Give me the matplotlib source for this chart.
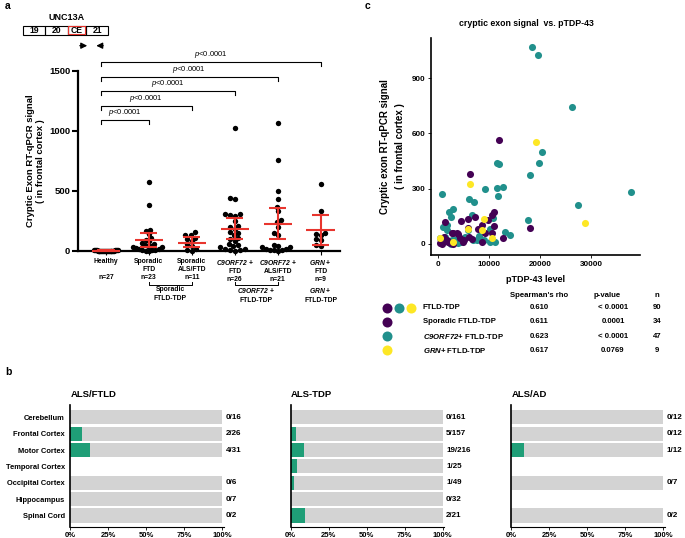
import numpy as np
import matplotlib
matplotlib.use('Agg')
import matplotlib.pyplot as plt
from matplotlib.patches import Rectangle

plt.rcParams['font.family'] = ['Liberation Sans', 'DejaVu Sans']
plt.rcParams['mathtext.fontset'] = 'custom'
plt.rcParams['mathtext.rm'] = 'Liberation Sans'
plt.rcParams['mathtext.it'] = 'Liberation Sans:italic'
plt.rcParams['mathtext.bf'] = 'Liberation Sans:bold'
plt.rcParams['mathtext.bfit'] = 'Liberation Sans:italic:bold'

# ---------------- panel a data (cryptic exon signal per group)
healthy = [2, 3, 1, 5, 0, 4, 6, 2, 8, 3, 1, 0, 2, 5, 7, 3, 4, 1, 2, 6, 0, 3, 9, 2, 1, 4, 5]
spor_ftd = [576, 387, 178, 165, 140, 110, 95, 80, 70, 60, 52, 45, 40, 35, 30, 25, 20, 15, 12, 10, 6, 4, 2]
spor_alsftd = [155, 135, 130, 110, 100, 80, 60, 40, 20, 5, 0]
c9_ftd = [1025, 445, 435, 310, 305, 300, 295, 250, 210, 200, 180, 160, 150, 130, 110, 100,
          80, 60, 50, 40, 30, 20, 15, 10, 5, 2]
c9_alsftd = [1065, 755, 500, 430, 370, 330, 260, 240, 200, 150, 130, 50, 40, 30, 30, 20, 20,
             10, 10, 5, 0]
grn_ftd = [560, 330, 150, 140, 130, 100, 90, 50, 40]
groups_a = [healthy, spor_ftd, spor_alsftd, c9_ftd, c9_alsftd, grn_ftd]
means_a = [3, 91, 70, 184, 226, 175]
ci_lo_a = [0, 34, 34, 102, 99, 48]
ci_hi_a = [8, 147, 113, 271, 356, 302]
labels_a = ['Healthy\n\nn=27', 'Sporadic\nFTD\nn=23', 'Sporadic\nALS/FTD\nn=11',
            '$\\mathbfit{C9ORF72}$ +\nFTD\nn=26', '$\\mathbfit{C9ORF72}$ +\nALS/FTD\nn=21',
            '$\\mathbfit{GRN}$ +\nFTD\nn=9']
brackets_to = [5, 4, 3, 2, 1]
brackets_y = [1575, 1450, 1333, 1208, 1092]

# ---------------- panel b data
tissues = ['Cerebellum', 'Frontal Cortex', 'Motor Cortex', 'Temporal Cortex',
           'Occipital Cortex', 'Hippocampus', 'Spinal Cord']
b_titles = ['ALS/FTLD', 'ALS-TDP', 'ALS/AD']
als_ftld_pos = [0, 2, 4, None, 0, 0, 0]
als_ftld_tot = [16, 26, 31, None, 6, 7, 2]
als_tdp_pos = [0, 5, 19, 1, 1, 0, 2]
als_tdp_tot = [161, 157, 216, 25, 49, 32, 21]
als_ad_pos = [0, 0, 1, None, 0, None, 0]
als_ad_tot = [12, 12, 12, None, 7, None, 2]

# ---------------- panel c data (pTDP-43, cryptic exon)
spor_x = [11900, 6250, 18000, 10940, 10550, 10550, 12640, 8530, 7230, 5920, 4490, 5920, 7870,
          9180, 6580, 5080, 2990, 3770, 2670, 1370, 390, 720, 2340, 2010, 4940, 3960, 9800,
          1200, 8500, 6000, 4200, 1700, 3000, 11000]
spor_y = [566, 380, 88, 172, 157, 61, 33, 105, 148, 134, 125, 85, 80, 58, 25, 22, 61, 61, 61,
          121, 7, 0, 7, 12, 12, 54, 130, 40, 10, 40, 30, 20, 0, 100]
c9_x = [18400, 19470, 26100, 20400, 19800, 17970, 37750, 27300, 17600, 720, 9240, 11580,
        12750, 11720, 11580, 11900, 6120, 7090, 13090, 14060, 10800, 10160, 10160, 6580, 8200,
        6900, 5270, 2990, 2210, 2480, 1700, 1040, 1370, 1700, 390, 2670, 3320, 3960, 3960,
        7550, 5800, 8000, 1000, 2500, 4500, 9000, 11200]
c9_y = [1067, 1024, 743, 499, 440, 373, 284, 209, 129, 273, 298, 302, 308, 260, 441, 432,
        244, 226, 67, 50, 139, 9, 80, 157, 25, 22, 36, 188, 175, 148, 103, 94, 40, 76, 33,
        22, 22, 29, 4, 22, 76, 45, 10, 0, 10, 20, 10]
grn_x = [6250, 19080, 28800, 9040, 5920, 8530, 390, 10500, 3000]
grn_y = [325, 552, 115, 134, 81, 76, 34, 35, 10]

stat_rows = ['FTLD-TDP', 'Sporadic FTLD-TDP', '$\\mathbfit{C9ORF72}$+ FTLD-TDP',
             '$\\mathbfit{GRN}$+ FTLD-TDP']
stat_rho = ['0.610', '0.611', '0.623', '0.617']
stat_p = ['< 0.0001', '0.0001', '< 0.0001', '0.0769']
stat_n = ['90', '34', '47', '9']

PURPLE, TEAL, YELLOW = '#440154', '#21908C', '#FDE725'
RED = '#E8352E'
GREEN = '#1F9E77'
GREY = '#D3D3D3'

W, H = 685, 538
fig = plt.figure(figsize=(W / 100, H / 100), dpi=100)


def fx(px):
    return px / W


def fy(py):
    return 1 - py / H


def swarm(vals, pxu, d, maxw):
    # simple beeswarm: x offsets in pixels
    offs = np.zeros(len(vals))
    placed = []
    cands = np.arange(-200, 200.1, 0.5)
    cands = cands[np.argsort(np.abs(cands), kind='stable')]
    for i in np.argsort(vals):
        y = vals[i] * pxu
        for c in cands:
            if all((c - a) ** 2 + (y - b) ** 2 >= d ** 2 for a, b in placed):
                break
        placed.append((c, y))
        offs[i] = c
    m = np.abs(offs).max()
    if m > maxw:
        offs = offs * maxw / m
    return offs


# ================= panel a
ax = fig.add_axes([fx(78), fy(251), fx(340) - fx(78), fy(71) - fy(251)])
ax.set_xlim(-0.65, 5.45)
ax.set_ylim(0, 1500)
step = 42.8
for i, vals in enumerate(groups_a):
    vals = np.array(vals, dtype=float)
    offs = swarm(vals, 0.12, 4.8, 12 if i == 0 else 16)
    ax.scatter(i + offs / step, vals, s=15, color='black', zorder=3, clip_on=False, lw=0)
    ax.hlines(means_a[i], i - 0.33, i + 0.33, color=RED, lw=1.5, zorder=4, clip_on=False)
    ax.hlines([ci_lo_a[i], ci_hi_a[i]], i - 0.2, i + 0.2, color=RED, lw=1.5, zorder=4,
              clip_on=False)
    ax.vlines(i, ci_lo_a[i], ci_hi_a[i], color=RED, lw=1.5, zorder=4, clip_on=False)
for tgt, yb in zip(brackets_to, brackets_y):
    ax.plot([-0.12, -0.12, tgt, tgt], [yb - 32, yb, yb, yb - 32], color='black', lw=0.8,
            clip_on=False)
    ax.text((tgt - 0.12) / 2, yb + 20, '$\\mathit{p}$<0.0001', ha='center', va='bottom',
            fontsize=5.5)
for s in ['top', 'right']:
    ax.spines[s].set_visible(False)
for s in ['left', 'bottom']:
    ax.spines[s].set_linewidth(1.6)
ax.set_yticks([0, 500, 1000, 1500])
ax.tick_params(axis='y', length=4, width=1.5, labelsize=6.8, pad=1.5)
for lab in ax.get_yticklabels():
    lab.set_fontweight('bold')
ax.set_xticks(range(6))
ax.set_xticklabels([])
ax.tick_params(axis='x', length=3, width=0.8)
ax.set_ylabel('Cryptic Exon RT-qPCR signal\n( in frontal cortex )', fontsize=6.8,
              fontweight='bold', linespacing=1.15, labelpad=3)
tr = ax.get_xaxis_transform()
for i, lab in enumerate(labels_a):
    ax.text(i, -0.04, lab, transform=tr, ha='center', va='top', fontsize=4.9,
            fontweight='bold', linespacing=1.2)
# group brackets
for a0, a1, lab in [(1, 2, 'Sporadic\nFTLD-TDP'), (3, 4, '$\\mathbfit{C9ORF72}$ +\nFTLD-TDP'),
                    (5, 5, '$\\mathbfit{GRN}$ +\nFTLD-TDP')]:
    if a1 > a0:
        ax.plot([a0, a0, a1, a1], [-0.17, -0.187, -0.187, -0.17], transform=tr,
                color='black', lw=0.7, clip_on=False)
    ax.text((a0 + a1) / 2, -0.197, lab, transform=tr, ha='center', va='top', fontsize=4.9,
            fontweight='bold', linespacing=1.25)

# ================= panel c
axc = fig.add_axes([fx(431), fy(255), fx(640) - fx(431), fy(38) - fy(255)])
axc.set_xlim(-1400, 39500)
axc.set_ylim(-60, 1118)
axc.scatter(c9_x, c9_y, s=26, color=TEAL, lw=0, zorder=2)
axc.scatter(spor_x, spor_y, s=26, color=PURPLE, lw=0, zorder=3)
axc.scatter(grn_x, grn_y, s=26, color=YELLOW, lw=0, zorder=4)
for s in ['top', 'right']:
    axc.spines[s].set_visible(False)
for s in ['left', 'bottom']:
    axc.spines[s].set_linewidth(1.2)
axc.set_xticks([0, 10000, 20000, 30000])
axc.set_yticks([0, 300, 600, 900])
axc.tick_params(length=2, width=0.6, labelsize=5.8, pad=2)
for lab in axc.get_xticklabels() + axc.get_yticklabels():
    lab.set_fontweight('bold')
axc.set_ylabel('Cryptic exon RT-qPCR signal\n( in frontal cortex )', fontsize=7,
               fontweight='bold', linespacing=1.6, labelpad=5)
axc.set_xlabel('pTDP-43 level', fontsize=6.5, fontweight='bold', labelpad=5)

# ================= panel b
b_pos = [als_ftld_pos, als_tdp_pos, als_ad_pos]
b_tot = [als_ftld_tot, als_tdp_tot, als_ad_tot]
for k, left in enumerate([70.3, 290.7, 511.3]):
    axb = fig.add_axes([fx(left), fy(527), 153.5 / W, fy(405) - fy(527)])
    axb.set_xlim(0, 101)
    axb.set_ylim(6.7, -0.75)
    for r in range(len(tissues)):
        pos, tot = b_pos[k][r], b_tot[k][r]
        if tot is None:
            continue
        axb.barh(r, 100, height=0.86, color=GREY, lw=0)
        axb.barh(r, 100 * pos / tot, height=0.86, color=GREEN, lw=0)
        axb.text(1.012, r, f'{pos}/{tot}', transform=axb.get_yaxis_transform(),
                 ha='left', va='center', fontsize=5.8, fontweight='bold')
    for s in ['top', 'right']:
        axb.spines[s].set_visible(False)
    axb.spines['left'].set_linewidth(1.2)
    axb.spines['bottom'].set_linewidth(0.8)
    axb.set_xticks([0, 25, 50, 75, 100])
    axb.set_xticklabels(['0%', '25%', '50%', '75%', '100%'])
    axb.tick_params(axis='x', length=2, width=0.6, labelsize=5.5, pad=1.5)
    for lab in axb.get_xticklabels():
        lab.set_fontweight('bold')
    axb.set_yticks(range(len(tissues)))
    if k == 0:
        axb.set_yticklabels(tissues, fontsize=5.4, fontweight='bold')
    else:
        axb.set_yticklabels([])
    axb.tick_params(axis='y', length=0, pad=4)
    axb.text(0, 1.09, b_titles[k], transform=axb.transAxes, ha='left', va='center',
             fontsize=6.8, fontweight='bold')

# ================= overlay: panel letters, gene diagram, stats table
ov = fig.add_axes([0, 0, 1, 1], zorder=-1)
ov.set_xlim(0, W)
ov.set_ylim(H, 0)
ov.axis('off')
for t, x, y in [('a', 5, 6), ('b', 5, 372), ('c', 365, 6)]:
    ov.text(x, y, t, fontsize=7.5, fontweight='bold', ha='left', va='center')

ov.text(66.7, 18, 'UNC13A', fontsize=6.5, fontweight='bold', ha='center', va='center')
exons = [('19', 22.7, 45), ('20', 45, 67.7), ('CE', 67.7, 86), ('21', 86, 108.3)]
for lab, x0, x1 in exons:
    ov.add_patch(Rectangle((x0, 25.5), x1 - x0, 9, fill=False, ec='black', lw=0.8))
    ov.text((x0 + x1) / 2, 30.2, lab, fontsize=6.2, fontweight='bold', ha='center',
            va='center')
ov.add_patch(Rectangle((68.4, 26), 17, 8, fill=False, ec=RED, lw=0.8, zorder=3))
ov.annotate('', xy=(90, 45.7), xytext=(77, 45.7),
            arrowprops=dict(arrowstyle='-|>', color='black', lw=0.9, mutation_scale=9))
ov.annotate('', xy=(93.5, 45.7), xytext=(106, 45.7),
            arrowprops=dict(arrowstyle='-|>', color='black', lw=0.9, mutation_scale=9))

ov.text(526, 24, 'cryptic exon signal  vs. pTDP-43', fontsize=6.3, fontweight='bold',
        ha='center', va='center')
hy = 295.7
for txt, x in [("Spearman's rho", 539), ('p-value', 607), ('n', 657)]:
    ov.text(x, hy, txt, fontsize=5.6, fontweight='bold', ha='center', va='center')
row_dots = [[PURPLE, TEAL, YELLOW], [PURPLE], [TEAL], [YELLOW]]
for r in range(4):
    yy = 307.7 + r * 14.2
    for j, c in enumerate(row_dots[r]):
        ov.scatter(386.7 + j * 12.2, yy, s=52, color=c, lw=0)
    ov.text(423, yy, stat_rows[r], fontsize=5.6, fontweight='bold', ha='left', va='center')
    ov.text(539, yy, stat_rho[r], fontsize=5.6, fontweight='bold', ha='center', va='center')
    ov.text(613, yy, stat_p[r], fontsize=5.6, fontweight='bold', ha='center', va='center')
    ov.text(657, yy, stat_n[r], fontsize=5.6, fontweight='bold', ha='center', va='center')

fig.savefig('out.png', dpi=100)
